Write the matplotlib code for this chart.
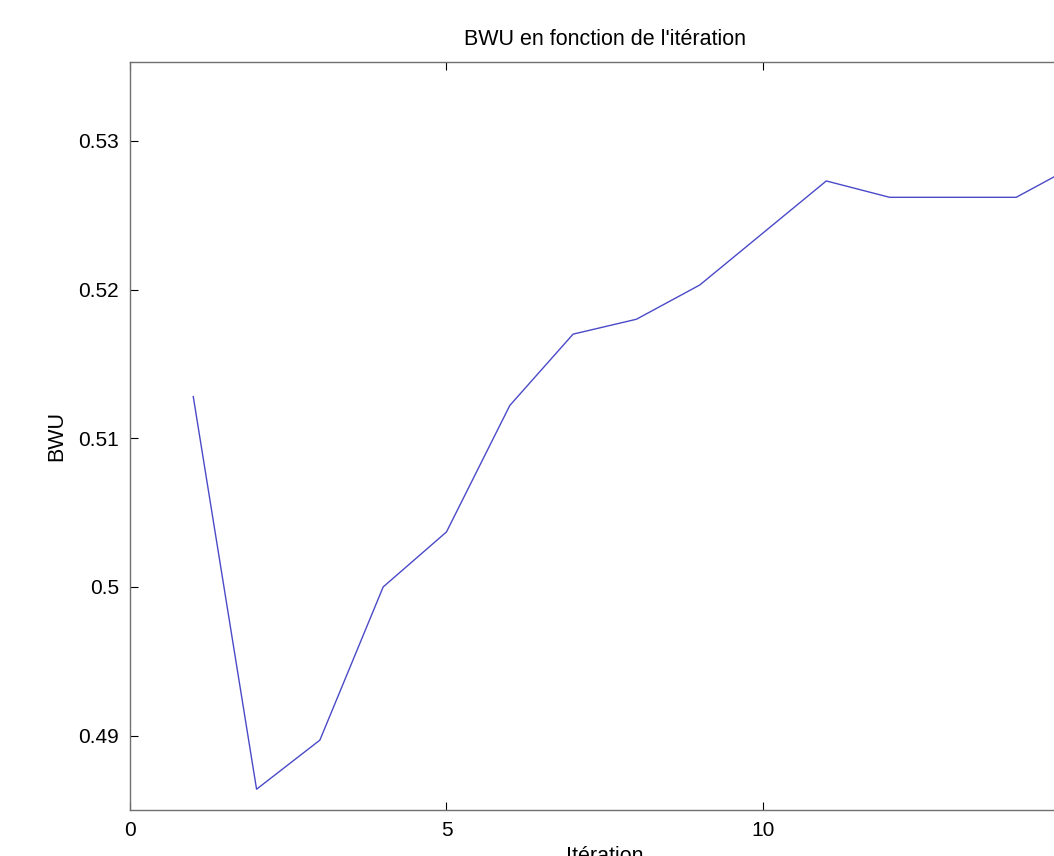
import matplotlib
matplotlib.use("Agg")
import matplotlib.pyplot as plt

iterations = [1, 2, 3, 4, 5, 6, 7, 8, 9, 10, 11, 12, 13, 14, 15]
bwu = [0.5128, 0.4864, 0.4897, 0.5000, 0.5037, 0.5122, 0.5170, 0.5180,
       0.5203, 0.5238, 0.5273, 0.5262, 0.5262, 0.5262, 0.5285]
x_ticks = [0, 5, 10, 15]
y_ticks = [0.49, 0.50, 0.51, 0.52, 0.53]
y_tick_labels = ["0.49", "0.5", "0.51", "0.52", "0.53"]

plt.rcParams["font.family"] = ["Liberation Sans", "DejaVu Sans"]

fig = plt.figure(figsize=(10.54, 8.56), dpi=100)
# axes extend past the right edge of the figure, as in the cropped original
ax = fig.add_axes([0.1233, 0.0537, 0.9009, 0.8739])

ax.plot(iterations, bwu, color="#4a4ac8", linewidth=1.0)

ax.set_xlim(0, 15)
ax.set_ylim(0.4850, 0.5353)
ax.set_xticks(x_ticks)
ax.set_yticks(y_ticks)
ax.set_yticklabels(y_tick_labels)
ax.tick_params(direction="in", length=6, width=0.8, labelsize=15,
               top=True, right=True, pad=8, colors="black")
for spine in ax.spines.values():
    spine.set_color("#707070")
    spine.set_linewidth(1.0)

ax.set_title("BWU en fonction de l'itération", fontsize=15.5, pad=12)
ax.set_xlabel("Itération", fontsize=15.5, labelpad=4)
ax.set_ylabel("BWU", fontsize=15.5, labelpad=8)

fig.savefig("out.png", dpi=100, facecolor="white")
